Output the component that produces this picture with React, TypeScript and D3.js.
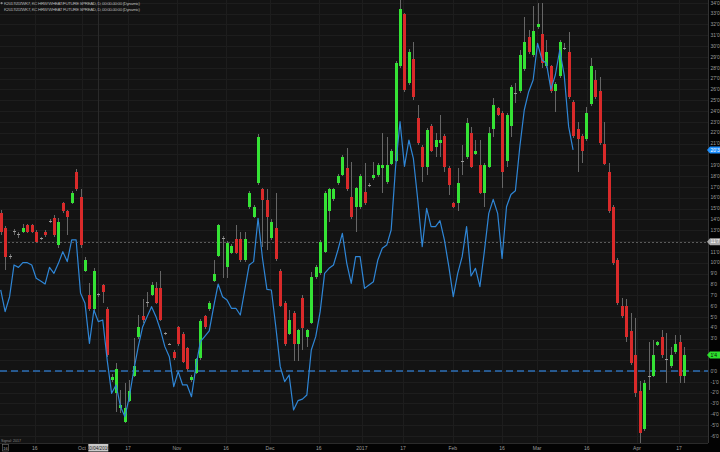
import { useEffect, useRef } from 'react';
import * as d3 from 'd3';

const W = 720;
const H = 452;

// daily candles of the spread (cents)
const opens = [
  14.56, 13.17, 10.55, 12.86, 12.58, 12.87, 13.48, 13.48, 12.87, 12.27,
  12.87, 13.87, 14.1, 11.63, 15.48, 14.8, 15.54, 18.41, 16.1, 9.26,
  7.02, 5.72, 7.04, 7.94, 5.72, -0.83, -2.06, -3.45, -4.68, -2.74,
  -0.46, 3.11, 5.08, 6.33, 7.02, 7.63, 7.63, 3.44, 2.51, 1.78,
  4.03, 3.42, 2.09, -0.83, -0.15, 1.17, 5.08, 5.69, 8.31, 10.62,
  12.27, 9.63, 10.93, 12.16, 12.16, 10.25, 15.17, 14.25, 17.39, 16.77,
  15.79, 12.25, 13.17, 9.26, 6.31, 3.42, 5.39, 2.49, 6.71, 3.17,
  4.46, 8.65, 9.02, 11.02, 14.8, 15.85, 17.39, 18.1, 18.71, 16.1,
  15.17, 15.17, 16.56, 17.19, 17.79, 18.1, 18.71, 17.48, 19.11, 19.42,
  28.16, 32.97, 26.62, 28.78, 23.33, 20.71, 18.81, 22.62, 20.71, 21.02,
  21.7, 18.71, 15.48, 15.54, 19.35, 19.73, 22.01, 20.04, 19.02, 16.47,
  18.81, 22.31, 24.25, 23.85, 19.42, 22.62, 25.6, 25.88, 27.86, 30.81,
  29.18, 31.8, 31.12, 28.16, 28.16, 25.88, 27.24, 29.81, 29.49, 24.87,
  22.31, 21.7, 21.39, 24.66, 26.87, 25.88, 20.96, 18.41, 15.11, 10.25,
  6.0, 6.0, 3.72, 1.48, -1.82, -5.39, -0.5, -0.46, 2.4, 3.11,
  1.1, 0.46, 1.79, 2.71, -0.46,
];
const highs = [
  14.9, 13.4, 10.8, 13.1, 12.8, 13.6, 13.6, 13.6, 13.0, 12.4,
  13.0, 14.0, 14.4, 14.1, 15.6, 14.9, 16.6, 18.62, 16.77, 10.5,
  8.16, 9.5, 7.2, 8.0, 5.9, -0.3, 0.71, -1.76, -1.14, -0.8,
  3.02, 5.17, 6.62, 7.32, 8.25, 8.25, 9.26, 3.6, 2.6, 1.9,
  4.2, 3.6, 2.2, -0.4, 1.2, 4.8, 5.2, 6.5, 10.25, 13.6,
  12.5, 12.0, 11.7, 13.48, 12.87, 12.87, 16.6, 15.3, 21.9, 16.9,
  16.77, 14.0, 16.4, 9.4, 6.5, 5.63, 5.5, 3.9, 7.02, 3.9,
  9.17, 9.8, 12.1, 16.6, 16.9, 16.9, 18.2, 19.9, 20.56, 19.33,
  17.0, 18.2, 19.17, 17.4, 19.33, 19.2, 21.95, 21.64, 20.5, 28.6,
  34.26, 33.1, 29.7, 30.41, 24.56, 20.9, 22.4, 22.8, 21.95, 23.64,
  21.9, 18.9, 15.6, 18.71, 20.87, 23.33, 22.56, 21.33, 21.33, 19.2,
  22.56, 25.18, 24.4, 24.0, 23.8, 26.4, 26.56, 29.64, 32.72, 31.49,
  33.7, 33.95, 33.95, 30.56, 28.3, 26.7, 30.6, 30.26, 31.33, 25.0,
  23.02, 21.9, 24.41, 28.87, 27.79, 27.18, 23.02, 19.17, 15.3, 10.4,
  6.71, 6.62, 5.32, 4.86, -0.91, -0.85, 2.71, 2.86, 2.8, 3.79,
  3.48, 2.25, 3.32, 3.32, 2.25,
];
const lows = [
  12.6, 9.33, 10.3, 12.6, 12.3, 12.7, 12.7, 12.7, 11.8, 12.1,
  12.4, 13.7, 12.4, 11.4, 14.6, 12.56, 15.4, 16.6, 11.4, 9.1,
  5.5, 5.5, 6.8, 6.25, 1.3, -1.0, -3.76, -3.91, -4.8, -2.9,
  -0.6, 3.0, 4.4, 5.94, 6.9, 6.2, 4.6, 3.3, 2.4, 1.0,
  2.3, 0.7, 0.0, -1.0, -0.3, 1.0, 3.9, 5.5, 8.2, 10.5,
  8.56, 8.56, 10.8, 10.8, 10.1, 10.1, 15.0, 14.1, 17.2, 11.48,
  11.17, 12.1, 10.2, 5.9, 2.3, 3.3, 0.95, 0.95, 1.94, 2.25,
  4.3, 8.5, 8.9, 10.9, 13.79, 15.7, 17.2, 18.0, 16.6, 14.0,
  12.87, 15.0, 15.3, 17.0, 17.6, 17.9, 16.4, 17.3, 19.0, 19.3,
  28.0, 25.8, 26.4, 25.02, 20.9, 17.48, 18.1, 20.2, 19.79, 19.79,
  18.41, 16.25, 15.02, 14.8, 18.1, 19.6, 18.7, 19.9, 16.3, 15.17,
  18.7, 21.64, 23.5, 16.87, 18.81, 21.64, 24.72, 25.7, 27.7, 29.3,
  29.0, 31.6, 27.95, 28.0, 25.64, 23.95, 27.1, 29.6, 25.1, 21.5,
  18.41, 19.17, 21.2, 24.5, 25.1, 20.9, 19.0, 14.6, 9.8, 6.09,
  4.9, 2.71, 0.6, -2.37, -6.68, -5.5, -1.75, -0.6, 2.3, 1.17,
  -1.14, 0.3, 1.6, -1.14, -1.14,
];
const closes = [
  12.87, 10.56, 10.53, 12.84, 12.56, 13.17, 12.87, 12.87, 11.94, 12.25,
  12.56, 13.85, 12.56, 13.79, 14.8, 14.19, 16.4, 16.81, 11.63, 10.25,
  5.72, 9.26, 7.02, 7.32, 1.48, -0.52, 0.16, -3.14, -3.45, -1.82,
  0.46, 4.03, 4.71, 6.31, 7.94, 6.31, 4.71, 3.42, 2.49, 1.17,
  2.49, 0.86, 0.16, -0.52, 1.08, 4.65, 4.09, 6.31, 8.96, 13.48,
  12.25, 11.85, 11.54, 10.93, 10.25, 12.16, 16.4, 15.11, 21.6, 15.79,
  14.19, 13.79, 10.31, 6.0, 2.49, 4.71, 2.49, 3.79, 3.94, 3.79,
  8.65, 9.63, 11.94, 16.47, 16.77, 16.77, 18.01, 19.73, 16.77, 14.19,
  16.87, 18.01, 15.48, 17.17, 18.1, 19.02, 19.02, 19.02, 20.34, 28.47,
  33.4, 25.95, 29.49, 25.27, 21.02, 18.81, 22.25, 20.34, 21.33, 21.33,
  18.81, 17.17, 15.17, 17.39, 19.33, 22.93, 18.81, 20.34, 16.47, 19.02,
  22.01, 24.56, 23.64, 18.41, 23.64, 26.19, 25.58, 29.18, 30.41, 29.49,
  31.42, 32.04, 28.47, 29.49, 25.88, 26.5, 30.41, 29.79, 25.27, 21.7,
  21.39, 20.34, 23.85, 28.16, 25.27, 21.02, 19.11, 14.8, 9.94, 6.31,
  5.08, 3.11, 0.77, -2.06, -5.69, -1.14, -0.52, 1.48, 2.71, 1.48,
  1.08, 1.48, 2.49, -0.46, 1.48,
];

// second study (blue line), stops before the end
const studyLine = [
  7.48, 5.48, 6.86, 9.79, 9.57, 10.0, 10.0, 9.79, 8.56, 8.31,
  8.03, 9.57, 9.02, 9.94, 11.02, 10.1, 12.1, 12.1, 7.17, 6.25,
  2.55, 5.63, 4.56, 4.71, 1.0, -2.06, -1.29, -3.29, -4.22, -2.37,
  0.09, 2.25, 4.09, 5.02, 5.94, 5.02, 3.79, 2.25, 1.32, -1.45,
  -0.06, -1.29, -1.29, -2.37, 0.4, 2.71, 3.2, 3.7, 5.94, 8.03,
  6.86, 6.56, 5.79, 5.79, 5.17, 7.48, 9.79, 10.1, 14.1, 10.41,
  7.54, 7.48, 4.09, 0.4, -0.98, -0.37, -3.6, -2.74, -2.6, -2.22,
  1.94, 3.17, 5.48, 9.02, 9.48, 9.79, 11.17, 12.71, 9.94, 8.09,
  10.56, 10.56, 7.63, 7.94, 8.25, 10.25, 11.33, 11.63, 13.02, 18.87,
  23.02, 18.9, 21.33, 19.64, 15.79, 11.48, 15.02, 13.33, 13.33, 13.88,
  12.1, 9.63, 6.86, 9.02, 10.56, 13.33, 8.77, 9.48, 7.79, 11.02,
  14.56, 15.85, 14.56, 10.4, 15.17, 16.3, 16.65, 20.71, 24.1, 25.79,
  26.87, 30.26, 28.72, 28.41, 26.01, 27.33, 29.64, 27.33, 22.56, 20.41,
];

// date axis: bar index where each label sits
const xTickIdx = [7.7, 18.3, 28.7, 39.7, 50.8, 60.7, 71.7, 81.4, 90.7, 101.9, 113, 120.9, 132.1, 143.4, 152.9];
const xTickLabels = ['16', 'Oct', '17', 'Nov', '16', 'Dec', '16', '2017', '17', 'Feb', '16', 'Mar', '16', 'Apr', '17'];
const yTicks = d3.range(-6, 35);

const titleLines = [
  'K2017/Z/ZWK7, KC HRW WHEAT/FUTURE SPREAD, D, 00:00-00:00 (Dynamic)',
  'K2017/Z/ZWK7, KC HRW WHEAT FUTURE SPREAD, D, 00:00-00:00 (Dynamic)',
];

const cursorIdx = 22;
const cursorValue = 11.94;
const cursorDate = '10/04/2016';
const cursorLabel = "11'7";
const studyLast = "20'3";
const priceLast = "1'4";

const FONT = 'Liberation Sans, Arial, sans-serif';
const GREEN = '#35e335';
const RED = '#d92a2a';
const BLUE = '#2f86d6';

const fmt = (v: number) => `${v}'0`;

export default function App() {
  const ref = useRef<SVGSVGElement>(null);

  useEffect(() => {
    if (!ref.current) return;
    const svg = d3.select(ref.current);
    svg.selectAll('*').remove();

    const plotR = 708;
    const plotB = 443;

    const x = d3.scaleLinear().domain([0, opens.length - 1]).range([0.7, 684]);
    const y = d3.scaleLinear().domain([0, 33]).range([371, 371 - 33 * 10.83]);

    // backgrounds
    svg.append('rect').attr('width', W).attr('height', H).attr('fill', '#030303');
    svg.append('rect').attr('width', plotR).attr('height', plotB).attr('fill', '#131313');

    // grid
    const grid = svg.append('g').attr('shape-rendering', 'crispEdges');
    yTicks.forEach((t) => {
      grid.append('line')
        .attr('x1', 0).attr('x2', plotR)
        .attr('y1', Math.round(y(t)) + 0.5).attr('y2', Math.round(y(t)) + 0.5)
        .attr('stroke', '#1d1d1d');
    });
    xTickIdx.forEach((i) => {
      grid.append('line')
        .attr('x1', Math.round(x(i)) + 0.5).attr('x2', Math.round(x(i)) + 0.5)
        .attr('y1', 0).attr('y2', plotB)
        .attr('stroke', '#1d1d1d');
    });

    // crosshair
    grid.append('line')
      .attr('x1', 0).attr('x2', plotR)
      .attr('y1', Math.round(y(cursorValue)) + 0.5).attr('y2', Math.round(y(cursorValue)) + 0.5)
      .attr('stroke', '#5a5a5a').attr('stroke-dasharray', '2,2');
    grid.append('line')
      .attr('x1', Math.round(x(cursorIdx)) + 0.5).attr('x2', Math.round(x(cursorIdx)) + 0.5)
      .attr('y1', 0).attr('y2', plotB)
      .attr('stroke', '#2a2a2a');

    // zero line
    svg.append('line')
      .attr('x1', 0).attr('x2', plotR)
      .attr('y1', y(0)).attr('y2', y(0))
      .attr('stroke', '#2c6fb6').attr('stroke-width', 1.3)
      .attr('stroke-dasharray', '7,4');

    // candles
    const cg = svg.append('g').attr('shape-rendering', 'crispEdges');
    opens.forEach((o, i) => {
      const c = closes[i];
      const cx = Math.round(x(i));
      cg.append('line')
        .attr('x1', cx + 0.5).attr('x2', cx + 0.5)
        .attr('y1', y(highs[i])).attr('y2', y(lows[i]))
        .attr('stroke', '#666');
      if (Math.abs(o - c) < 0.06) {
        cg.append('rect')
          .attr('x', cx - 1).attr('width', 3)
          .attr('y', y(c) - 0.5).attr('height', 1)
          .attr('fill', '#9a9a9a');
        return;
      }
      const top = y(Math.max(o, c));
      const bot = y(Math.min(o, c));
      cg.append('rect')
        .attr('x', cx - 1).attr('width', 3)
        .attr('y', top).attr('height', Math.max(1, bot - top))
        .attr('fill', c > o ? GREEN : RED);
    });

    // study line
    const line = d3.line<number>().x((_, i) => x(i)).y((d) => y(d));
    svg.append('path')
      .datum(studyLine)
      .attr('d', line)
      .attr('fill', 'none')
      .attr('stroke', BLUE)
      .attr('stroke-width', 1.2)
      .attr('stroke-linejoin', 'round');

    // frame
    svg.append('line')
      .attr('x1', plotR + 0.5).attr('x2', plotR + 0.5).attr('y1', 0).attr('y2', plotB)
      .attr('stroke', '#333').attr('shape-rendering', 'crispEdges');
    svg.append('line')
      .attr('x1', 0).attr('x2', plotR).attr('y1', plotB + 0.5).attr('y2', plotB + 0.5)
      .attr('stroke', '#2a2a2a').attr('shape-rendering', 'crispEdges');

    // price axis (labels under a tag are hidden, as on the platform)
    const tags = [
      { v: studyLine[studyLine.length - 1], label: studyLast, bg: '#1e90ff', fg: '#ffffff' },
      { v: closes[closes.length - 1], label: priceLast, bg: '#2ee02e', fg: '#0a0a0a' },
      { v: cursorValue, label: cursorLabel, bg: '#a8a8a8', fg: '#ffffff' },
    ];
    const ya = svg.append('g').attr('font-family', FONT).attr('font-size', '5px').attr('fill', '#9c9c9c');
    yTicks.forEach((t) => {
      if (tags.some((g) => Math.abs(y(g.v) - y(t)) < 6)) return;
      ya.append('text')
        .attr('x', 710.5).attr('y', y(t)).attr('dy', '0.35em')
        .text(fmt(t));
    });

    tags.forEach((g) => {
      const ty = y(g.v);
      svg.append('path')
        .attr('d', `M${plotR - 1},${ty} L${plotR + 2},${ty - 3.5} L${W},${ty - 3.5} L${W},${ty + 3.5} L${plotR + 2},${ty + 3.5} Z`)
        .attr('fill', g.bg);
      svg.append('text')
        .attr('x', 710.5).attr('y', ty).attr('dy', '0.35em')
        .attr('font-family', FONT).attr('font-size', '5px').attr('fill', g.fg)
        .text(g.label);
    });

    // date axis
    const xa = svg.append('g').attr('font-family', FONT).attr('font-size', '5px').attr('fill', '#9c9c9c');
    xTickIdx.forEach((i, k) => {
      xa.append('text')
        .attr('x', x(i)).attr('y', 449.5)
        .attr('text-anchor', 'middle')
        .text(xTickLabels[k]);
    });

    const cx = x(cursorIdx);
    svg.append('rect')
      .attr('x', cx - 10).attr('y', 444).attr('width', 20).attr('height', 7.5)
      .attr('fill', '#c9c9c9');
    svg.append('text')
      .attr('x', cx).attr('y', 449.6).attr('text-anchor', 'middle')
      .attr('font-family', FONT).attr('font-size', '4.6px').attr('fill', '#222')
      .text(cursorDate);

    svg.append('rect')
      .attr('x', 2.5).attr('y', 444.5).attr('width', 6).attr('height', 6.5)
      .attr('fill', 'none').attr('stroke', '#777').attr('stroke-width', 0.6);
    svg.append('text')
      .attr('x', 5.5).attr('y', 449.5).attr('text-anchor', 'middle')
      .attr('font-family', FONT).attr('font-size', '4px').attr('fill', '#aaa')
      .text('16');

    svg.append('text')
      .attr('x', 1).attr('y', 441.5)
      .attr('font-family', FONT).attr('font-size', '3.6px').attr('fill', '#888')
      .text('Signal: 2017');

    // header
    const hd = svg.append('g').attr('font-family', FONT).attr('font-size', '4.4px').attr('fill', '#b5b5b5');
    hd.append('circle').attr('cx', 1.6).attr('cy', 3.2).attr('r', 1.1).attr('fill', '#888');
    hd.append('text').attr('x', 4).attr('y', 5).attr('textLength', 136).text(titleLines[0]);
    hd.append('text').attr('x', 4).attr('y', 10.5).attr('textLength', 136).text(titleLines[1]);
  }, []);

  return <svg ref={ref} width={W} height={H} style={{ position: 'fixed', left: 0, top: 0 }} />;
}
